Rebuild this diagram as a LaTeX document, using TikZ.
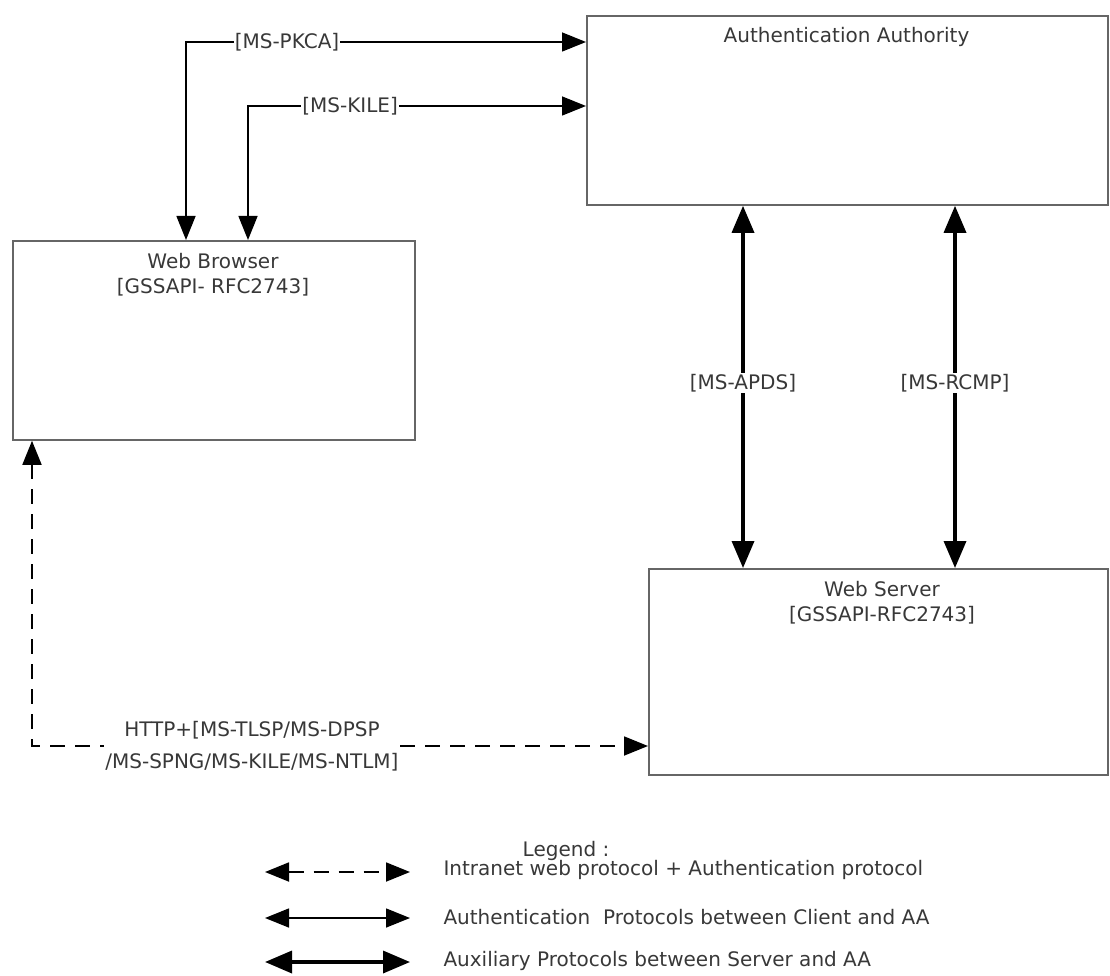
\documentclass[tikz,border=0pt]{standalone}
\usepackage{fontspec}
\setmainfont{DejaVu Sans}
\usetikzlibrary{arrows.meta}
\definecolor{boxgray}{HTML}{666666}
\definecolor{txtgray}{HTML}{383838}
\tikzset{
	box/.style={draw=boxgray,line width=1.8,anchor=north west,inner sep=0pt},
	title/.style={text=txtgray,align=center,font=\fontsize{20}{25}\selectfont},
	lbl/.style={fill=white,text=txtgray,inner sep=1,font=\fontsize{20}{25}\selectfont},
	tip/.style={{Triangle[length=24,width=19]}-{Triangle[length=24,width=19]}},
	bigtip/.style={{Triangle[length=27,width=22]}-{Triangle[length=27,width=22]}},
	thinarrow/.style={tip,line width=1.5},
	dasharrow/.style={tip,line width=1.8,dash pattern=on 15 off 10},
	thickarrow/.style={bigtip,line width=3.5},
}
\begin{document}
\begin{tikzpicture}[x=1pt,y=-1pt]
		\useasboundingbox (0,0) rectangle (1110,976);
		\node[box,minimum width=521,minimum height=189] (aa) at (586,15) {};
		\node[box,minimum width=402,minimum height=199] (wb) at (12,240) {};
		\node[box,minimum width=459,minimum height=206] (ws) at (648,568) {};
		\node[title] (aaT) at (846.5,37) {Authentication Authority};
		\node[title] (wbT) at (213,274.5) {Web Browser\\{[GSSAPI- RFC2743]}};
		\node[title] (wsT) at (882,602.5) {Web Server\\{[GSSAPI-RFC2743]}};
		\coordinate (PK) at (186,42);
		\coordinate (KI) at (248,106);
		\coordinate (HT) at (32,746);
		\coordinate (AP) at (743,383);
		\coordinate (RC) at (955,383);
		\draw [thinarrow] (wb.north -| PK) -- (PK) -- node[lbl,pos=0.2525] (pkL) {[MS-PKCA]} (aa.west |- PK);
		\draw [thinarrow] (wb.north -| KI) -- (KI) -- node[lbl,pos=0.302] (kiL) {[MS-KILE]} (aa.west |- KI);
		\draw [thickarrow] (aa.south -| AP) -- node[lbl,pos=0.49] (apL) {[MS-APDS]} (ws.north -| AP);
		\draw [thickarrow] (aa.south -| RC) -- node[lbl,pos=0.49] (rcL) {[MS-RCMP]} (ws.north -| RC);
		\draw [dasharrow] (wb.south -| HT) -- (HT) -- node[lbl,align=center,pos=0.357,font=\fontsize{20}{32}\selectfont] (htL) {HTTP+[MS-TLSP/MS-DPSP\\{/MS-SPNG/MS-KILE/MS-NTLM]}} (ws.west |- HT);
		\node[title] (lgT) at (566,851) {Legend :};
		\coordinate (L1a) at (265,872);
		\coordinate (L1b) at (410,872);
		\coordinate (L2a) at (265,918);
		\coordinate (L2b) at (410,918);
		\coordinate (L3a) at (265,962);
		\coordinate (L3b) at (410,962);
		\draw [dasharrow] (L1a) -- (L1b);
		\draw [thinarrow] (L2a) -- (L2b);
		\draw [thickarrow] (L3a) -- (L3b);
		\node[title,anchor=west] (lg1) at (440,870) {Intranet web protocol + Authentication protocol};
		\node[title,anchor=west] (lg2) at (440,917) {Authentication\ \ Protocols between Client and AA};
		\node[title,anchor=west] (lg3) at (440,961) {Auxiliary Protocols between Server and AA};
	\end{tikzpicture}
\end{document}
